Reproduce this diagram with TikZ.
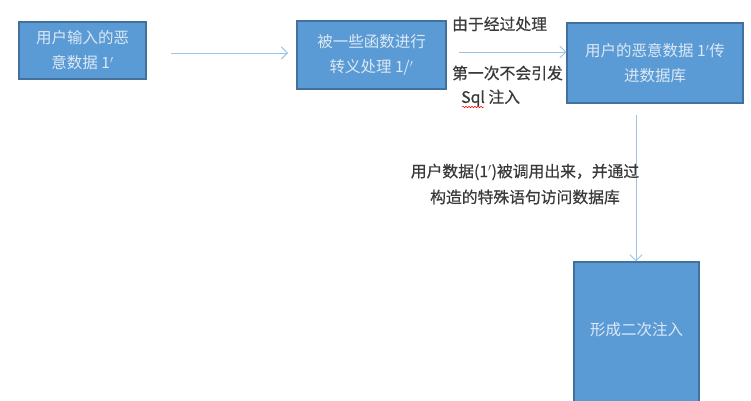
\documentclass[tikz,border=0pt]{standalone}
\usepackage{fontspec}
\newfontfamily\cjk{Noto Sans CJK SC}
\newfontfamily\cjkb[FakeBold=0.6]{Noto Sans CJK SC}
\usetikzlibrary{arrows.meta,decorations.pathmorphing}
\definecolor{boxfill}{HTML}{5B9BD5}
\definecolor{boxline}{HTML}{41719C}
\definecolor{boxtext}{HTML}{DCE8F5}
\definecolor{arr}{HTML}{9DC3E6}
\definecolor{lbl}{HTML}{3A3A3A}
\begin{document}
\begin{tikzpicture}[x=1pt,y=-1pt,
  bx/.style={draw=boxline,line width=1.2pt,fill=boxfill,text=boxtext,align=center,font=\cjk\fontsize{15.5}{25}\selectfont,inner sep=0pt},
  conn/.style={draw=arr,line width=0.9pt,-{Straight Barb[length=6pt,width=12pt]}},
  lb/.style={text=lbl,font=\cjkb\fontsize{15.8}{25}\selectfont,inner sep=0pt,align=center}]
\useasboundingbox (0,0) rectangle (751,400);
\begin{scope}
\clip (0,0) rectangle (751,400);
\node[bx,minimum width=127pt,minimum height=57pt] (b1) at (82.5,50.5) {用户输入的恶\\意数据 1$'$};
\node[bx,minimum width=149pt,minimum height=68pt] (b2) at (371.5,55) {被一些函数进行\\转义处理 1/$'$};
\node[bx,minimum width=176pt,minimum height=80pt] (b3) at (655,63) {用户的恶意数据 1$'$传\\进数据库};
\node[bx,minimum width=125pt,minimum height=160pt] (b4) at (636.5,342) {};
\node[text=boxtext,font=\cjk\fontsize{15.5}{25}\selectfont,inner sep=0pt] (t4) at (636.5,330) {形成二次注入};
\end{scope}
\coordinate (a1s) at (171,53);
\coordinate (a1e) at (288,53);
\draw[conn] (a1s) -- (a1e);
\coordinate (a2s) at (459,52);
\draw[conn] (a2s) -- (b3.west |- a2s);
\coordinate (a3s) at (636,115);
\draw[conn] (a3s) -- (b4.north -| a3s);
\node[lb,anchor=west] (l1) at (452,24) {由于经过处理};
\node[lb,anchor=west] (l2) at (452,73) {第一次不会引发};
\node[lb,anchor=west] (l3) at (461,98) {Sql 注入};
\draw[red,line width=0.5pt,decorate,decoration={snake,amplitude=0.8pt,segment length=3pt}] (462,107) -- (484,107);
\node[lb] (l4) at (525,172) {用户数据(1$'$)被调用出来，并通过};
\node[lb] (l5) at (525,197) {构造的特殊语句访问数据库};
\end{tikzpicture}
\end{document}
